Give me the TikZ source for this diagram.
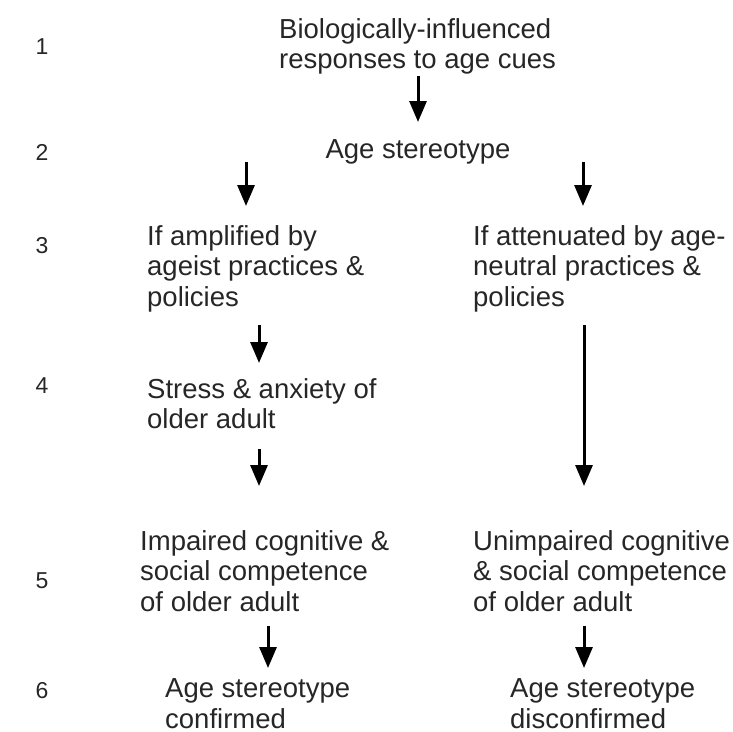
\documentclass[tikz,border=0pt]{standalone}
\usepackage{fontspec}
\setmainfont{Liberation Sans}
\usetikzlibrary{arrows.meta}
\begin{document}
\begin{tikzpicture}[x=1pt,y=1pt,
  txt/.style={anchor=base west,inner sep=0pt,align=left,font=\fontsize{27.5}{30.5}\selectfont,text=black!85},
  num/.style={anchor=base,inner sep=0pt,font=\fontsize{23}{26}\selectfont,text=black!85},
  arr/.style={line width=3pt,-{Triangle[width=17pt,length=21pt]},black}]
\useasboundingbox (0,0) rectangle (733,-731);
% row numbers
\node[num] (n1) at (42,-54) {1};
\node[num] (n2) at (42,-160) {2};
\node[num] (n3) at (42,-253) {3};
\node[num] (n4) at (42,-393) {4};
\node[num] (n5) at (42,-588) {5};
\node[num] (n6) at (42,-698) {6};
% texts (base anchor = baseline of last line)
\node[txt] (bio) at (279,-68.5) {Biologically-influenced\\responses to age cues};
\node[txt,anchor=base] (stereo) at (418,-158) {Age stereotype};
\node[txt] (ampl) at (147,-306) {If amplified by\\ageist practices \&\\policies};
\node[txt] (atten) at (473,-306) {If attenuated by age-\\neutral practices \&\\policies};
\node[txt] (stress) at (147,-428.5) {Stress \& anxiety of\\older adult};
\node[txt] (impair) at (140,-611) {Impaired cognitive \&\\social competence\\of older adult};
\node[txt] (unimp) at (473,-611) {Unimpaired cognitive\\\& social competence\\of older adult};
\node[txt] (conf) at (165,-728) {Age stereotype\\confirmed};
\node[txt] (disc) at (510,-728) {Age stereotype\\disconfirmed};
% arrow endpoints
\coordinate (a1s) at (418,-76);  \coordinate (a1e) at (418,-122);
\coordinate (a2s) at (246,-162); \coordinate (a2e) at (246,-206);
\coordinate (a3s) at (583,-162); \coordinate (a3e) at (583,-206);
\coordinate (a4s) at (259,-325); \coordinate (a4e) at (259,-363);
\coordinate (a5s) at (584,-325); \coordinate (a5e) at (584,-486);
\coordinate (a6s) at (259,-449); \coordinate (a6e) at (259,-486);
\coordinate (a7s) at (268,-626); \coordinate (a7e) at (268,-668);
\coordinate (a8s) at (584,-626); \coordinate (a8e) at (584,-668);
\draw[arr] (a1s) -- (a1e);
\draw[arr] (a2s) -- (a2e);
\draw[arr] (a3s) -- (a3e);
\draw[arr] (a4s) -- (a4e);
\draw[arr] (a5s) -- (a5e);
\draw[arr] (a6s) -- (a6e);
\draw[arr] (a7s) -- (a7e);
\draw[arr] (a8s) -- (a8e);
\end{tikzpicture}
\end{document}
